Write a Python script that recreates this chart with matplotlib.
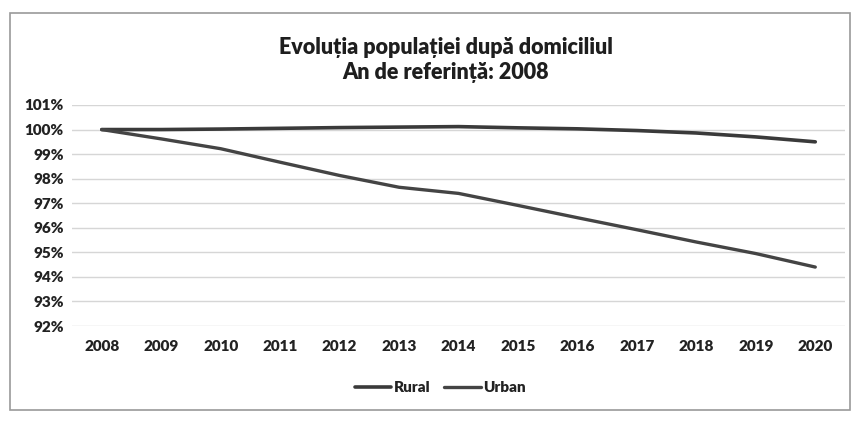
import matplotlib
matplotlib.use("Agg")
import matplotlib.pyplot as plt
from matplotlib.ticker import FuncFormatter
from matplotlib.patches import Rectangle

plt.rcParams['font.family'] = ['Lato', 'DejaVu Sans']

# date (procente fata de 2008)
ani = ['2008', '2009', '2010', '2011', '2012', '2013', '2014',
       '2015', '2016', '2017', '2018', '2019', '2020']
rural = [100.0, 100.0, 100.02, 100.05, 100.08, 100.1, 100.12,
         100.07, 100.03, 99.96, 99.86, 99.7, 99.5]
urban = [100.0, 99.62, 99.22, 98.67, 98.13, 97.65, 97.4,
         96.91, 96.41, 95.92, 95.42, 94.95, 94.4]
titlu = 'Evoluția populației după domiciliul\nAn de referință: 2008'

fig = plt.figure(figsize=(8.59, 4.21), dpi=100)
ax = fig.add_axes([72 / 859, 1 - 326 / 421, 773 / 859, 221 / 421])

x = range(len(ani))
ax.plot(x, rural, color='#3a3a3a', lw=2.6, label='Rural', solid_capstyle='round')
ax.plot(x, urban, color='#444444', lw=2.4, label='Urban', solid_capstyle='round')

ax.set_xlim(-0.5, len(ani) - 0.5)
ax.set_ylim(92, 101)
ax.set_yticks(range(92, 102))
ax.yaxis.set_major_formatter(FuncFormatter(lambda v, p: '%d%%' % v))
ax.set_xticks(list(x))
ax.set_xticklabels(ani)
ax.grid(axis='y', color='#d6d6d6', lw=1)
ax.set_axisbelow(True)
for s in ax.spines.values():
    s.set_visible(False)
ax.tick_params(axis='x', length=0, labelsize=11, colors='#222222', pad=10)
ax.tick_params(axis='y', length=0, labelsize=11, colors='#222222', pad=6)
for t in ax.get_xticklabels() + ax.get_yticklabels():
    t.set_fontweight('heavy')

fig.text(446 / 859, 1 - 60 / 421, titlu, ha='center', va='center',
         fontsize=15.5, fontweight='heavy', color='#1e1e1e', linespacing=1.2)

leg = ax.legend(loc='center', bbox_to_anchor=(440 / 859, 1 - 388 / 421),
                bbox_transform=fig.transFigure, ncol=2, frameon=False,
                handlelength=2.4, handletextpad=0.15, columnspacing=0.9,
                prop={'size': 11, 'weight': 'heavy'})
for t in leg.get_texts():
    t.set_color('#222222')

# chenarul graficului
fig.patches.append(Rectangle((10 / 859, 1 - 410 / 421), 840 / 859, 397 / 421,
                             transform=fig.transFigure, fill=False,
                             ec='#9a9a9a', lw=1.2))

fig.savefig('out.png', dpi=100)
